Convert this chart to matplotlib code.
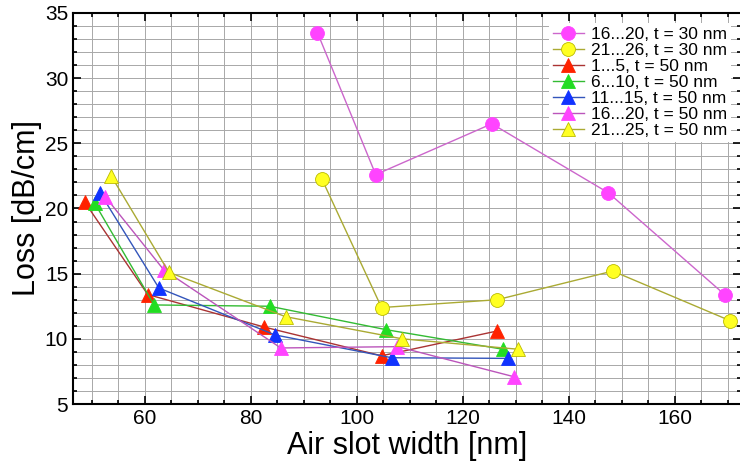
import numpy as np
import matplotlib.pyplot as plt
from matplotlib.ticker import MultipleLocator

plt.rcParams['font.family'] = ['Liberation Sans', 'DejaVu Sans']

# t = 30 nm series (circles)
x_c1 = [92.6, 103.6, 125.5, 147.5, 169.4]
y_c1 = [33.5, 22.6, 26.5, 21.2, 13.4]
x_c2 = [93.4, 104.7, 126.5, 148.3, 170.4]
y_c2 = [22.3, 12.4, 13.0, 15.2, 11.4]

# t = 50 nm series (triangles)
x_t1 = [48.7, 60.6, 82.6, 104.7, 126.5]
y_t1 = [20.5, 13.4, 10.9, 8.7, 10.6]
x_t2 = [50.6, 61.8, 83.6, 105.6, 127.6]
y_t2 = [20.4, 12.6, 12.5, 10.7, 9.2]
x_t3 = [51.6, 62.7, 84.6, 106.6, 128.5]
y_t3 = [21.2, 13.9, 10.3, 8.55, 8.5]
x_t4 = [52.6, 63.6, 85.7, 107.7, 129.6]
y_t4 = [20.9, 15.3, 9.3, 9.4, 7.1]
x_t5 = [53.7, 64.6, 86.6, 108.6, 130.5]
y_t5 = [22.5, 15.1, 11.7, 10.0, 9.2]

labels = ['16...20, t = 30 nm', '21...26, t = 30 nm', '1...5, t = 50 nm',
          '6...10, t = 50 nm', '11...15, t = 50 nm', '16...20, t = 50 nm',
          '21...25, t = 50 nm']

series = [(x_c1, y_c1, 'o', '#ff44ff', '#cc66cc'),
          (x_c2, y_c2, 'o', '#ffff22', '#aaaa33'),
          (x_t1, y_t1, '^', '#ff2200', '#aa3333'),
          (x_t2, y_t2, '^', '#22dd22', '#33bb33'),
          (x_t3, y_t3, '^', '#1133ff', '#3355bb'),
          (x_t4, y_t4, '^', '#ff44ff', '#bb55bb'),
          (x_t5, y_t5, '^', '#ffff22', '#aaaa33')]

fig = plt.figure(figsize=(7.4, 4.69), dpi=100)
ax = fig.add_axes([73 / 740, 65 / 469, 668 / 740, 391 / 469])

for (xs, ys, m, fc, lc), lab in zip(series, labels):
    edge = '#bbbb00' if fc == '#ffff22' else fc
    ax.plot(xs, ys, color=lc, lw=1.0, marker=m, markersize=10,
            markerfacecolor=fc, markeredgecolor=edge, markeredgewidth=0.6,
            label=lab, zorder=3)

ax.set_xlim(46.5, 172.5)
ax.set_ylim(5, 35)
ax.xaxis.set_major_locator(MultipleLocator(20))
ax.xaxis.set_minor_locator(MultipleLocator(5))
ax.yaxis.set_major_locator(MultipleLocator(5))
ax.yaxis.set_minor_locator(MultipleLocator(1))
ax.grid(which='both', color='#a8a8a8', lw=0.7)
ax.set_axisbelow(True)
ax.tick_params(which='both', direction='in', top=True, right=True,
               labelsize=15, width=1.2)
ax.tick_params(which='major', length=6)
ax.tick_params(which='minor', length=3)
for s in ax.spines.values():
    s.set_linewidth(1.5)

ax.set_xlabel('Air slot width [nm]', fontsize=22, labelpad=2)
ax.set_ylabel('Loss [dB/cm]', fontsize=22, labelpad=2)

leg = ax.legend(loc='upper right', fontsize=12.5, frameon=True,
                framealpha=1, edgecolor='none', borderpad=0.2,
                labelspacing=0.05, handlelength=1.8, handletextpad=0.4,
                borderaxespad=0.6)
leg.get_frame().set_boxstyle('square', pad=0)

fig.savefig('out.png', dpi=100)
